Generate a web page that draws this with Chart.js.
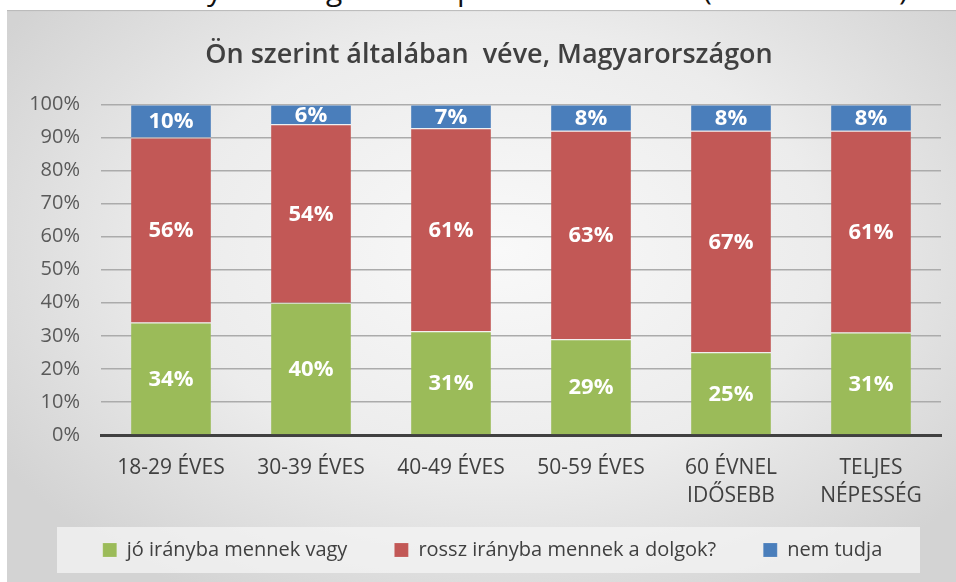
<!DOCTYPE html>
<html>
<head>
<meta charset="utf-8">
<title>Ön szerint általában véve, Magyarországon</title>
<script src="https://cdn.jsdelivr.net/npm/chart.js@4.4.1/dist/chart.umd.min.js"></script>
<style>
    html, body { margin: 0; padding: 0; background: #fff; width: 956px; height: 582px; overflow: hidden; }
    #strip { position: absolute; left: 0; top: 0; width: 956px; height: 10px; overflow: hidden; font-family: "Open Sans"; font-size: 30px; color: #111; }
    #strip span { position: absolute; top: -26px; line-height: 30px; }
    #frame {
        position: absolute; left: 7px; top: 10px; width: 949px; height: 572px;
        background: radial-gradient(ellipse 62% 70% at 52% 42%, #f9f9f9 0%, #ececec 55%, #d3d3d3 100%);
        box-shadow: inset 0 2px 1px -1px #b8b8b8;
    }
    canvas { display: block; }
</style>
</head>
<body>
<div id="strip"><span style="left:207px">y</span><span style="left:326px">g</span><span style="left:457px">p</span><span style="left:703px">(</span><span style="left:899px">)</span></div>
<div id="frame"><canvas id="chart" width="949" height="572"></canvas></div>
<script>
const categories = ['18-29 ÉVES', '30-39 ÉVES', '40-49 ÉVES', '50-59 ÉVES', ['60 ÉVNEL', 'IDŐSEBB'], ['TELJES', 'NÉPESSÉG']];
const goodDirection = [34, 40, 31.4, 29, 25, 31];
const badDirection = [56, 54, 61.4, 63, 67, 61];
const dontKnow = [10, 6, 7.2, 8, 8, 8];
const seriesNames = ['jó irányba mennek vagy', 'rossz irányba mennek a dolgok?', 'nem tudja'];
const chartTitle = 'Ön szerint általában  véve, Magyarországon';

const FONT = 'Open Sans';

// white percentages in the middle of every segment
const segmentLabels = {
    id: 'segmentLabels',
    afterDatasetsDraw(chart) {
        const ctx = chart.ctx;
        ctx.save();
        ctx.font = 'bold 22px "' + FONT + '"';
        ctx.fillStyle = '#ffffff';
        ctx.textAlign = 'center';
        ctx.textBaseline = 'middle';
        chart.data.datasets.forEach((ds, i) => {
            chart.getDatasetMeta(i).data.forEach((bar, j) => {
                const p = bar.getProps(['x', 'y', 'base'], true);
                ctx.fillText(Math.round(ds.data[j]) + '%', p.x, (p.y + p.base) / 2 + 1);
            });
        });
        ctx.restore();
    }
};

// the legend and title sit a little right of the canvas middle, legend a bit higher
const boxNudge = {
    id: 'boxNudge',
    afterLayout(chart) {
        const lg = chart.legend;
        if (lg) {
            lg.left += 22;
            lg.top -= 14;
            lg.bottom -= 14;
        }
        const t = chart.titleBlock;
        if (t) t.left += 15;
    }
};

// pale panel behind the legend
const legendPanel = {
    id: 'legendPanel',
    beforeDraw(chart) {
        const lg = chart.legend;
        if (!lg || !lg.legendHitBoxes || !lg.legendHitBoxes.length) return;
        const hb = lg.legendHitBoxes[0];
        const cy = hb.top + hb.height / 2;
        const ctx = chart.ctx;
        ctx.save();
        ctx.fillStyle = 'rgba(244, 244, 244, 0.75)';
        ctx.fillRect(lg.left + 13, cy - 23, lg.right - lg.left - 34, 46);
        ctx.restore();
    }
};

new Chart(document.getElementById('chart'), {
    type: 'bar',
    data: {
        labels: categories,
        datasets: [
            { label: seriesNames[0], data: goodDirection, backgroundColor: '#9bbb59' },
            { label: seriesNames[1], data: badDirection, backgroundColor: '#c25856' },
            { label: seriesNames[2], data: dontKnow, backgroundColor: '#4a7ebb' }
        ]
    },
    options: {
        responsive: false,
        animation: false,
        layout: { padding: { left: 15, right: 15, top: 0, bottom: -2 } },
        datasets: {
            bar: {
                categoryPercentage: 1,
                barPercentage: 0.57,
                borderColor: 'rgba(255,255,255,0.6)',
                borderWidth: { top: 1, left: 0, right: 0, bottom: 0 },
                borderSkipped: 'bottom'
            }
        },
        plugins: {
            title: {
                display: true,
                text: chartTitle,
                color: '#404040',
                font: { family: FONT, size: 27, weight: '600', lineHeight: 1.2 },
                padding: { top: 29, bottom: 33 }
            },
            legend: {
                position: 'bottom',
                labels: {
                    color: '#404040',
                    font: { family: FONT, size: 20 },
                    boxWidth: 14,
                    boxHeight: 14,
                    padding: 47
                }
            },
            tooltip: { enabled: false }
        },
        scales: {
            x: {
                stacked: true,
                grid: { display: false, drawTicks: false },
                border: { display: true, color: '#404040', width: 3 },
                ticks: {
                    color: '#404040',
                    font: { family: FONT, size: 21, lineHeight: 1.333 },
                    padding: 19,
                    maxRotation: 0,
                    autoSkip: false
                },
                afterFit(scale) { scale.height = 72; }
            },
            y: {
                stacked: true,
                min: 0,
                max: 100,
                border: { display: false },
                grid: {
                    color: (c) => c.tick.value === 0 ? 'rgba(0,0,0,0)' : '#ababab',
                    lineWidth: 1.5,
                    drawTicks: false
                },
                ticks: {
                    stepSize: 10,
                    color: '#595959',
                    font: { family: FONT, size: 20 },
                    padding: 21,
                    callback: (v) => v + '%'
                },
                afterFit(scale) { scale.width = 79; }
            }
        }
    },
    plugins: [boxNudge, legendPanel, segmentLabels]
});
</script>
</body>
</html>
